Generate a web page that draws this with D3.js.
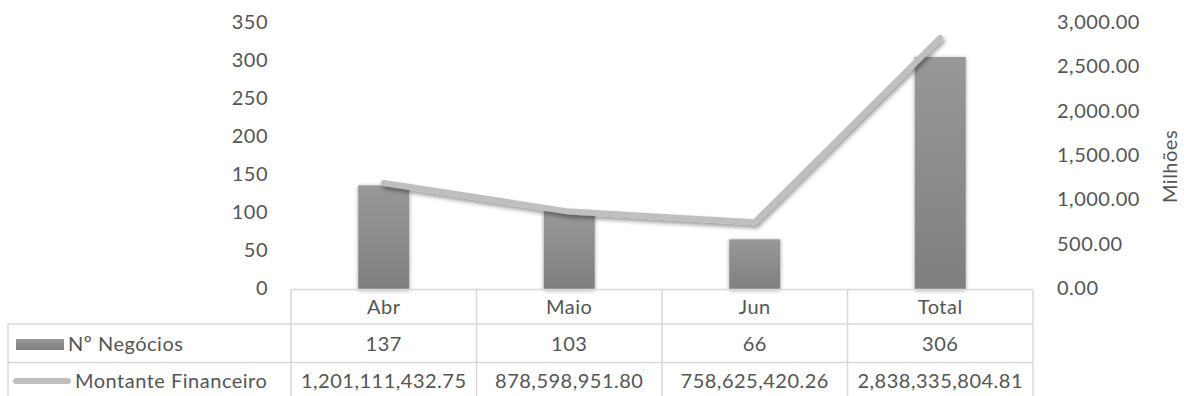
<!DOCTYPE html>
<html>
<head>
<meta charset="utf-8">
<script src="https://cdn.jsdelivr.net/npm/d3@7"></script>
<style>
  html, body { margin: 0; padding: 0; background: #fff; }
  svg text { font-family: Lato, "Open Sans", sans-serif; font-size: 20px; fill: #555; letter-spacing: 0.5px; }
</style>
</head>
<body>
<svg id="chart" width="1184" height="396"></svg>
<script>
// Monthly deal count and financial amount
const categories = ["Abr", "Maio", "Jun", "Total"];
const negocios = [137, 103, 66, 306];
const montante = [1201111432.75, 878598951.80, 758625420.26, 2838335804.81];
const leftTicks = [0, 50, 100, 150, 200, 250, 300, 350];
const rightTicks = [0, 500, 1000, 1500, 2000, 2500, 3000];
const seriesNames = ["Nº Negócios", "Montante Financeiro"];
const unitLabel = "Milhões";

const svg = d3.select("#chart");
const W = 1184, H = 396;
const plot = { left: 291, right: 1033, top: 23.5, bottom: 289.5 };
const tableRows = [289.5, 324, 362.5, H];
const gridColor = "#d9d9d9";

const x = d3.scaleBand().domain(categories).range([plot.left, plot.right]).paddingInner(0).paddingOuter(0);
const yL = d3.scaleLinear().domain([0, 350]).range([plot.bottom, plot.top]);
const yR = d3.scaleLinear().domain([0, 3000]).range([plot.bottom, plot.top]);

const defs = svg.append("defs");
const grad = defs.append("linearGradient").attr("id", "barGrad")
  .attr("x1", 0).attr("y1", 0).attr("x2", 0).attr("y2", 1);
grad.append("stop").attr("offset", "0%").attr("stop-color", "#989898");
grad.append("stop").attr("offset", "100%").attr("stop-color", "#7f7f7f");

const barShadow = defs.append("filter").attr("id", "barShadow")
  .attr("x", "-30%").attr("y", "-10%").attr("width", "160%").attr("height", "120%");
barShadow.append("feDropShadow").attr("dx", 0).attr("dy", 1).attr("stdDeviation", 2)
  .attr("flood-color", "#000").attr("flood-opacity", 0.35);

const lineShadow = defs.append("filter").attr("id", "lineShadow")
  .attr("x", "-10%").attr("y", "-10%").attr("width", "120%").attr("height", "130%");
lineShadow.append("feDropShadow").attr("dx", 1.5).attr("dy", 3).attr("stdDeviation", 2)
  .attr("flood-color", "#000").attr("flood-opacity", 0.4);

// Left axis labels
const yAxisL = d3.axisLeft(yL).tickValues(leftTicks).tickSize(0).tickPadding(0);
const gL = svg.append("g").attr("transform", "translate(268,0)").call(yAxisL);
gL.select(".domain").remove();
gL.selectAll("text").attr("dy", "0.32em").attr("y", -1.5).attr("fill", null).style("font-size", "20px");

// Right axis labels (values in millions)
const yAxisR = d3.axisRight(yR).tickValues(rightTicks).tickSize(0).tickPadding(0).tickFormat(d3.format(",.2f"));
const gR = svg.append("g").attr("transform", "translate(1057,0)").call(yAxisR);
gR.select(".domain").remove();
gR.selectAll("text").attr("dy", "0.32em").attr("y", -1.5).attr("fill", null).style("font-size", "20px");

svg.append("text")
  .attr("transform", `translate(1177,${(plot.top + plot.bottom) / 2 + 10}) rotate(-90)`)
  .attr("text-anchor", "middle")
  .text(unitLabel);

// Bars
const barW = 51;
svg.append("g").selectAll("rect").data(categories).join("rect")
  .attr("x", d => x(d) + x.bandwidth() / 2 - barW / 2)
  .attr("width", barW)
  .attr("y", (d, i) => yL(negocios[i]))
  .attr("height", (d, i) => yL(0) - yL(negocios[i]))
  .attr("fill", "url(#barGrad)")
  .attr("filter", "url(#barShadow)");

// Line
const line = d3.line()
  .x((d, i) => x(categories[i]) + x.bandwidth() / 2)
  .y(d => yR(d / 1e6));
svg.append("path").datum(montante)
  .attr("d", line)
  .attr("fill", "none")
  .attr("stroke", "#bfbfbf")
  .attr("stroke-width", 6)
  .attr("stroke-linecap", "round")
  .attr("stroke-linejoin", "round")
  .attr("filter", "url(#lineShadow)");

// Data table
const tg = svg.append("g").attr("stroke", gridColor).attr("stroke-width", 1.5).attr("fill", "none");
tg.append("line").attr("x1", plot.left).attr("x2", plot.right).attr("y1", tableRows[0]).attr("y2", tableRows[0]);
[tableRows[1], tableRows[2]].forEach(yy => {
  tg.append("line").attr("x1", 8).attr("x2", plot.right).attr("y1", yy).attr("y2", yy);
});
tg.append("line").attr("x1", 8).attr("x2", 8).attr("y1", tableRows[1]).attr("y2", H);
const colEdges = categories.map(c => x(c)).concat([plot.right]);
colEdges.forEach(xx => {
  tg.append("line").attr("x1", xx).attr("x2", xx).attr("y1", tableRows[0]).attr("y2", H);
});

const rowCenter = [307, 344, 381];
const cx = d => x(d) + x.bandwidth() / 2;

svg.append("g").selectAll("text").data(categories).join("text")
  .attr("x", cx).attr("y", rowCenter[0]).attr("dy", "0.35em")
  .attr("text-anchor", "middle").text(d => d);

const fmtInt = d3.format("d");
const fmtMoney = d3.format(",.2f");
svg.append("g").selectAll("text").data(negocios).join("text")
  .attr("x", (d, i) => cx(categories[i])).attr("y", rowCenter[1]).attr("dy", "0.35em")
  .attr("text-anchor", "middle").text(d => fmtInt(d));
svg.append("g").selectAll("text").data(montante).join("text")
  .attr("x", (d, i) => cx(categories[i])).attr("y", rowCenter[2]).attr("dy", "0.35em")
  .attr("text-anchor", "middle").text(d => fmtMoney(d));

// Row headers with legend keys
svg.append("rect").attr("x", 16).attr("y", 339).attr("width", 48).attr("height", 11)
  .attr("fill", "url(#barGrad)");
svg.append("text").attr("x", 68).attr("y", rowCenter[1]).attr("dy", "0.35em").text(seriesNames[0]);
svg.append("line").attr("x1", 16).attr("x2", 68).attr("y1", 381).attr("y2", 381)
  .attr("stroke", "#bfbfbf").attr("stroke-width", 6).attr("stroke-linecap", "round");
svg.append("text").attr("x", 75).attr("y", rowCenter[2]).attr("dy", "0.35em").text(seriesNames[1]);
</script>
</body>
</html>
